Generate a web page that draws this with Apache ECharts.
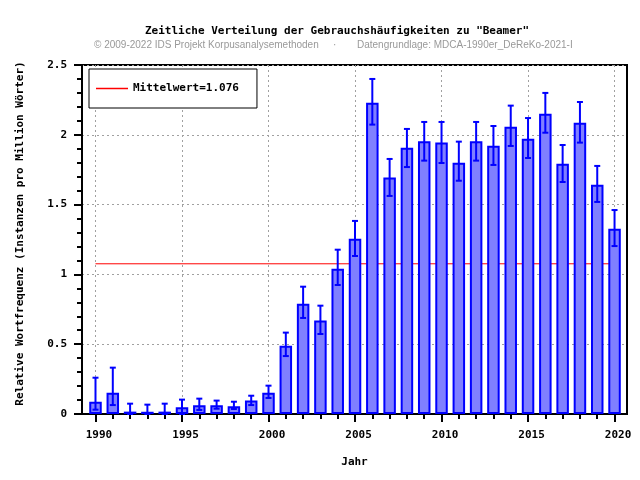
<!DOCTYPE html>
<html><head><meta charset="utf-8">
<script src="https://cdn.jsdelivr.net/npm/echarts@6/dist/echarts.min.js"></script>
<style>html,body{margin:0;padding:0;background:#fff}#c{width:640px;height:480px}</style>
</head><body><div id="c"></div>
<script>
const years = [1990,1991,1992,1993,1994,1995,1996,1997,1998,1999,2000,2001,2002,2003,2004,2005,2006,2007,2008,2009,2010,2011,2012,2013,2014,2015,2016,2017,2018,2019,2020];
const values = [0.088,0.153,0.017,0.016,0.017,0.048,0.062,0.062,0.055,0.096,0.153,0.489,0.79,0.669,1.041,1.256,2.23,1.695,1.908,1.953,1.944,1.80,1.953,1.922,2.058,1.972,2.151,1.793,2.087,1.643,1.327];
const errHigh = [0.26,0.332,0.074,0.067,0.074,0.103,0.11,0.096,0.088,0.131,0.203,0.583,0.912,0.776,1.177,1.383,2.40,1.827,2.042,2.092,2.092,1.951,2.092,2.063,2.209,2.12,2.30,1.927,2.235,1.777,1.461];
const errLow = [0.031,0.064,0,0,0,0,0.029,0.038,0.036,0.064,0.115,0.415,0.688,0.573,0.924,1.132,2.073,1.562,1.769,1.815,1.798,1.671,1.815,1.784,1.92,1.834,2.015,1.662,1.944,1.519,1.203];
const meanValue = 1.076;
const majorYears = [1990,1995,2000,2005,2010,2015,2020];

const mono = '"DejaVu Sans Mono", monospace';
const chart = echarts.init(document.getElementById('c'), null, {renderer:'canvas'});
const gridLine = {show:true, lineStyle:{color:'#a0a0a0', type:[2,3], width:1}};
chart.setOption({
  animation:false,
  backgroundColor:'#fff',
  title:[
    {text:'Zeitliche Verteilung der Gebrauchshäufigkeiten zu "Beamer"', left:145, top:26, padding:0,
     textStyle:{fontFamily:mono, fontWeight:'bold', fontSize:11, color:'#000'}},
    {text:'© 2009-2022 IDS Projekt Korpusanalysemethoden', left:94, top:40, padding:0,
     textStyle:{fontFamily:'"Liberation Sans", Arial, sans-serif', fontWeight:'normal', fontSize:10, color:'#999'}},
    {text:'·', left:333, top:40, padding:0,
     textStyle:{fontFamily:'"Liberation Sans", Arial, sans-serif', fontWeight:'normal', fontSize:10, color:'#999'}},
    {text:'Datengrundlage: MDCA-1990er_DeReKo-2021-I', left:357, top:40, padding:0,
     textStyle:{fontFamily:'"Liberation Sans", Arial, sans-serif', fontWeight:'normal', fontSize:10, color:'#999'}}
  ],
  legend:{
    left:89, top:69, orient:'vertical',
    padding:[14,18,14,7],
    borderColor:'#000', borderWidth:1, backgroundColor:'#fff',
    icon:'rect', itemWidth:32, itemHeight:1.5,
    data:['Mittelwert=' + meanValue.toFixed(3)],
    textStyle:{fontFamily:mono, fontWeight:'bold', fontSize:11, color:'#000'}
  },
  grid:{left:82, right:13, top:65, bottom:66, show:true, borderColor:'#000', borderWidth:2, containLabel:false},
  xAxis:[
    {type:'value', min:1989.22, max:2020.72, position:'bottom',
     name:'Jahr', nameLocation:'middle', nameGap:43,
     nameTextStyle:{fontFamily:mono, fontWeight:'bold', fontSize:11, color:'#000'},
     axisLine:{show:true, onZero:false, lineStyle:{color:'#000', width:2}},
     axisTick:{show:true, length:8, inside:false, customValues:majorYears, lineStyle:{color:'#000', width:2}},
     axisLabel:{customValues:majorYears, fontFamily:mono, fontWeight:'bold', fontSize:11, color:'#000', margin:16, padding:[0,0,0,7],
       formatter:v=>String(Math.round(v))},
     splitLine:Object.assign({customValues:majorYears}, gridLine)
    },
    {type:'value', min:1989.22, max:2020.72, position:'bottom',
     axisLine:{show:false},
     axisTick:{show:true, length:5, customValues:years, lineStyle:{color:'#000', width:2}},
     axisLabel:{show:false}, splitLine:{show:false}
    }
  ],
  yAxis:{type:'value', min:0, max:2.5, interval:0.5,
    name:'Relative Wortfrequenz (Instanzen pro Million Wörter)', nameLocation:'middle', nameGap:56,
    nameTextStyle:{fontFamily:mono, fontWeight:'bold', fontSize:11, color:'#000', padding:[0,0,0,12]},
    axisLine:{show:true, lineStyle:{color:'#000', width:2}},
    axisTick:{show:true, length:8, lineStyle:{color:'#000', width:2}},
    minorTick:{show:true, splitNumber:5, length:5, lineStyle:{color:'#000', width:2}},
    axisLabel:{fontFamily:mono, fontWeight:'bold', fontSize:11, color:'#000', margin:15,
      formatter:v=>String(v)},
    splitLine:gridLine
  },
  series:[
    {name:'Mittelwert=' + meanValue.toFixed(3), type:'line', xAxisIndex:0,
     data:[[years[0], meanValue],[years[years.length-1], meanValue]],
     symbol:'none', lineStyle:{color:'#ff0000', width:1}, itemStyle:{color:'#ff0000'}, z:1},
    {name:'Wortfrequenz', type:'bar', xAxisIndex:0, barWidth:12.5,
     data:years.map((y,i)=>[y, values[i]]),
     itemStyle:{color:'#8080ff', borderColor:'#0000ff', borderWidth:2}, z:2},
    {name:'Fehler', type:'custom', xAxisIndex:0, z:3,
     data:years.map((y,i)=>[y, errLow[i], errHigh[i]]),
     renderItem:function(params, api){
       const x = api.value(0);
       const lo = api.coord([x, api.value(1)]);
       const hi = api.coord([x, api.value(2)]);
       const hw = 3;
       const style = {stroke:'#0000ff', lineWidth:2, fill:null};
       return {type:'group', children:[
         {type:'line', shape:{x1:lo[0], y1:lo[1], x2:hi[0], y2:hi[1]}, style:style},
         {type:'line', shape:{x1:hi[0]-hw, y1:hi[1], x2:hi[0]+hw, y2:hi[1]}, style:style},
         {type:'line', shape:{x1:lo[0]-hw, y1:lo[1], x2:lo[0]+hw, y2:lo[1]}, style:style}
       ]};
     }}
  ]
});
</script></body></html>
